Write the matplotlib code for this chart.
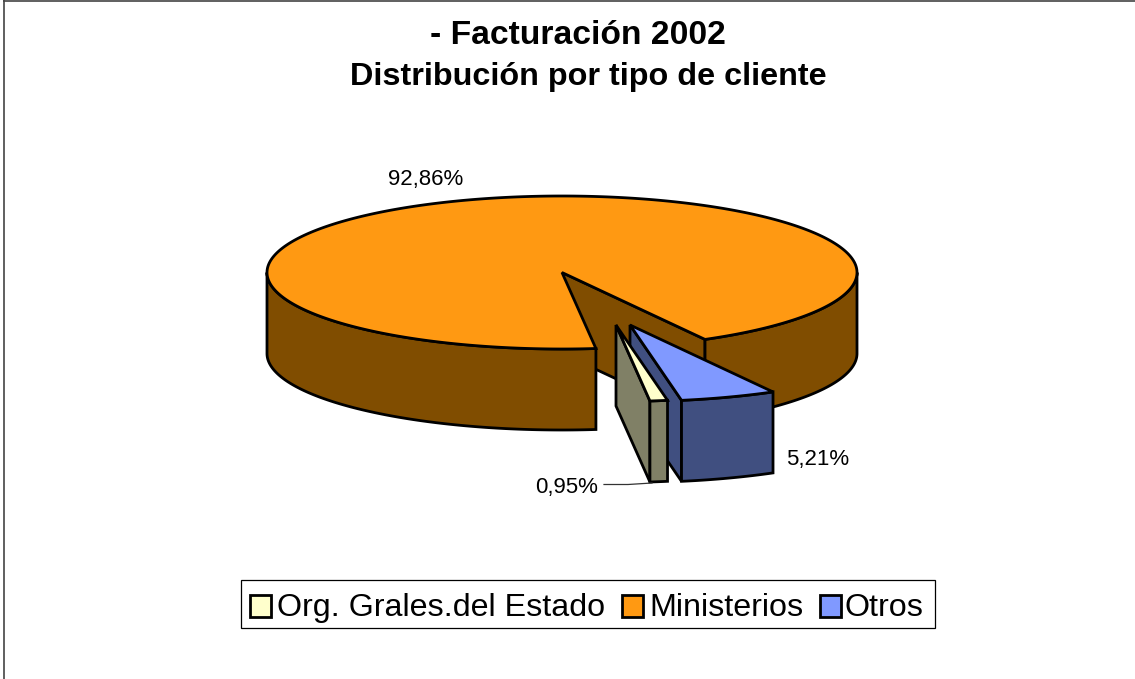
import numpy as np
import matplotlib
matplotlib.use("Agg")
import matplotlib.pyplot as plt
from matplotlib.patches import Polygon, Patch

plt.rcParams['font.family'] = ['Liberation Sans', 'DejaVu Sans']

categories = ["Org. Grales.del Estado", "Ministerios", "Otros"]
values = [0.95, 92.86, 5.21]
top_colors = ["#FFFFCC", "#FF9912", "#8099FF"]
side_colors = ["#808066", "#804D00", "#404F80"]
title_lines = ["- Facturación 2002", "Distribución por tipo de cliente"]

W, H = 1135, 679
CX, CY, RX, RY, DEPTH = 562, 272.5, 295, 76.5, 81
START = 61.0
OFFSETS = {"Otros": (68, 52.5), "Org. Grales.del Estado": (54, 52.5), "Ministerios": (0, 0)}
LW = 2.0

fig = plt.figure(figsize=(W / 100, H / 100), dpi=100)
ax = fig.add_axes([0, 0, 1, 1])
ax.set_xlim(0, W)
ax.set_ylim(H, 0)
ax.axis("off")

shares = np.array(values) / sum(values) * 360
spans = {}
t = START
for name in ["Otros", "Org. Grales.del Estado", "Ministerios"]:
    s = shares[categories.index(name)]
    spans[name] = (t, t + s)
    t += s


def arc(t0, t1, off, dz=0.0):
    a = np.radians(np.linspace(t0, t1, max(int(abs(t1 - t0) * 2), 2)))
    return np.column_stack([CX + off[0] + RX * np.cos(a), CY + off[1] + RY * np.sin(a) + dz])


def poly(points, color, z):
    ax.add_patch(Polygon(points, closed=True, facecolor=color, edgecolor="black",
                         linewidth=LW, joinstyle="miter", zorder=z))


def outer_wall(t0, t1, off, color, z):
    top = arc(t0, t1, off)
    bottom = arc(t0, t1, off, DEPTH)[::-1]
    poly(np.vstack([top, bottom]), color, z)


def radial_wall(t0, off, color, z):
    apex = np.array([CX + off[0], CY + off[1]])
    edge = arc(t0, t0, off)[0]
    poly([apex, edge, edge + [0, DEPTH], apex + [0, DEPTH]], color, z)


def top_face(t0, t1, off, color, z):
    apex = [CX + off[0], CY + off[1]]
    poly(np.vstack([[apex], arc(t0, t1, off)]), color, z)


# Ministerios
n = "Ministerios"
t0, t1 = spans[n]
off = OFFSETS[n]
top, side = top_colors[1], side_colors[1]
radial_wall(t1 - 360, off, side, 1)
outer_wall(360, t1, off, side, 2)
outer_wall(t0, 180, off, side, 3)
top_face(t0, t1, off, top, 4)

# Otros
n = "Otros"
t0, t1 = spans[n]
off = OFFSETS[n]
top, side = top_colors[2], side_colors[2]
radial_wall(t1, off, side, 5)
outer_wall(t0, t1, off, side, 6)
top_face(t0, t1, off, top, 7)

# Org. Grales
n = "Org. Grales.del Estado"
t0, t1 = spans[n]
off = OFFSETS[n]
top, side = top_colors[0], side_colors[0]
radial_wall(t1, off, side, 8)
outer_wall(t0, t1, off, side, 9)
top_face(t0, t1, off, top, 10)


def fmt(v):
    return f"{v:.2f}%".replace(".", ",")


ax.text(426, 180, fmt(values[1]), ha="center", va="center", fontsize=16, color="black")
ax.text(818, 459, fmt(values[2]), ha="center", va="center", fontsize=16, color="black")
ax.text(567, 487, fmt(values[0]), ha="center", va="center", fontsize=16, color="black")
ax.plot([604, 628, 652], [484.5, 484.5, 483], color="#333333", lw=0.9, zorder=12)

ax.text(578, 35, title_lines[0], ha="center", va="center", fontsize=24.2, fontweight="bold")
ax.text(588, 77, title_lines[1], ha="center", va="center", fontsize=23.3, fontweight="bold")

handles = [Patch(facecolor=c, edgecolor="black", linewidth=LW) for c in top_colors]
leg = ax.legend(handles, categories, ncol=3, loc="center", bbox_to_anchor=(588 / W, 1 - 604 / H),
                bbox_transform=fig.transFigure, fontsize=23.2, frameon=True, fancybox=False,
                edgecolor="black", framealpha=1, borderpad=0.27, handlelength=0.66, handleheight=0.66,
                handletextpad=0.2, columnspacing=0.5, borderaxespad=0)
leg.get_frame().set_linewidth(0.9)
for txt, dx in zip(leg.get_texts(), (0, 0, -3)):
    txt.set_position((dx, -4))
for p in leg.legend_handles:
    p.set_y(p.get_y() - 4)

ax.plot([3.5, 3.5], [0, H], color="#444444", lw=1.2, zorder=0, solid_capstyle="butt")
ax.plot([3, W], [1, 1], color="#444444", lw=1.2, zorder=0, solid_capstyle="butt")

fig.savefig("out.png", dpi=100)
